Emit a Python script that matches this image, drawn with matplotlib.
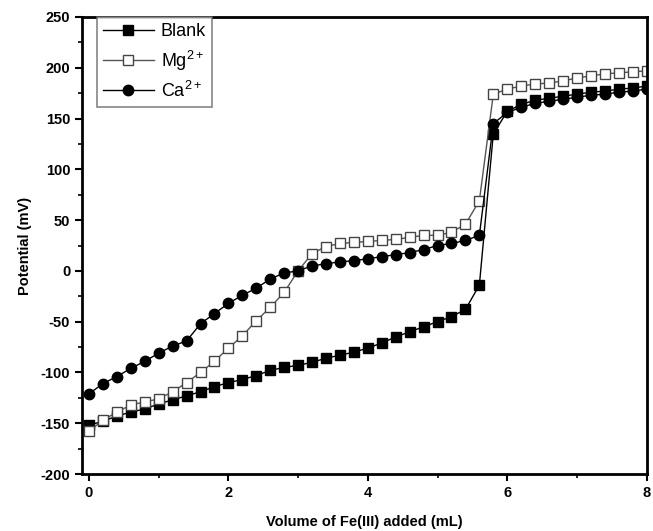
import matplotlib
matplotlib.use("Agg")
import matplotlib.pyplot as plt
from matplotlib.ticker import MultipleLocator

plt.rcParams['font.family'] = ['Liberation Sans Narrow', 'Liberation Sans', 'DejaVu Sans']
plt.rcParams['mathtext.fontset'] = 'custom'
plt.rcParams['mathtext.rm'] = 'Liberation Sans'
plt.rcParams['axes.unicode_minus'] = False

volume = [0.0, 0.2, 0.4, 0.6, 0.8, 1.0, 1.2, 1.4, 1.6, 1.8, 2.0, 2.2, 2.4, 2.6, 2.8,
          3.0, 3.2, 3.4, 3.6, 3.8, 4.0, 4.2, 4.4, 4.6, 4.8, 5.0, 5.2, 5.4, 5.6, 5.8,
          6.0, 6.2, 6.4, 6.6, 6.8, 7.0, 7.2, 7.4, 7.6, 7.8, 8.0]

blank = [-152, -148, -143, -139, -136, -131, -127, -123, -119, -114, -110, -107, -103, -98, -95,
         -93, -90, -86, -83, -80, -76, -71, -65, -60, -55, -50, -45, -38, -14, 135,
         157, 164, 168, 170, 172, 174, 176, 177, 179, 180, 182]

mg = [-158, -147, -139, -132, -129, -126, -119, -110, -100, -89, -76, -64, -49, -36, -21,
      0, 17, 24, 27, 28, 29, 30, 31, 33, 35, 35, 38, 46, 69, 174,
      179, 182, 184, 185, 187, 190, 192, 194, 195, 196, 197]

ca = [-121, -111, -104, -96, -89, -81, -74, -69, -52, -42, -32, -24, -17, -8, -2,
      0, 5, 7, 9, 10, 12, 14, 16, 18, 21, 25, 27, 30, 35, 145,
      156, 161, 165, 167, 169, 171, 173, 174, 176, 177, 179]

labels = ['Blank', 'Mg$^{2+}$', 'Ca$^{2+}$']

fig = plt.figure(figsize=(6.53, 5.31), dpi=100)
ax = fig.add_axes([0.1256, 0.1073, 0.8647, 0.8607])

ax.plot(volume, blank, color='black', lw=1.0, marker='s', ms=6.5,
        mfc='black', mec='black', label=labels[0])
ax.plot(volume, mg, color='#555555', lw=1.0, marker='s', ms=7,
        mfc='white', mec='#444444', mew=1.0, label=labels[1])
ax.plot(volume, ca, color='black', lw=1.0, marker='o', ms=7.5,
        mfc='black', mec='black', label=labels[2])

ax.set_xlim(-0.1, 8)
ax.set_ylim(-200, 250)
ax.xaxis.set_major_locator(MultipleLocator(2))
ax.xaxis.set_minor_locator(MultipleLocator(1))
ax.yaxis.set_major_locator(MultipleLocator(50))
ax.yaxis.set_minor_locator(MultipleLocator(25))

for s in ax.spines.values():
    s.set_linewidth(2.0)
ax.tick_params(which='major', direction='out', length=5, width=1.5, labelsize=10.5)
ax.tick_params(which='minor', direction='out', length=3, width=1.2)
for t in ax.get_xticklabels() + ax.get_yticklabels():
    t.set_fontweight('bold')

ax.set_xlabel('Volume of Fe(III) added (mL)', fontsize=10.5, fontweight='bold', labelpad=11)
ax.set_ylabel('Potential (mV)', fontsize=10.5, fontweight='bold', labelpad=6)

leg = ax.legend(loc='upper left', bbox_to_anchor=(0.026, 1.0), borderaxespad=0,
                fancybox=False, edgecolor='#666666', fontsize=13, handlelength=2.8,
                labelspacing=0.45, borderpad=0.35, handletextpad=0.4)
leg.get_frame().set_linewidth(1.2)
for t in leg.get_texts():
    t.set_family(['Liberation Sans', 'DejaVu Sans'])

fig.savefig('out.png', dpi=100)
